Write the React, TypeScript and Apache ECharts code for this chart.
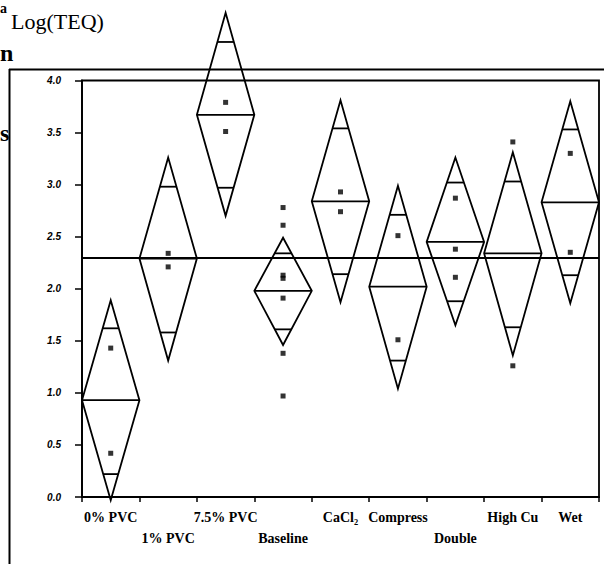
import React, { useEffect, useRef } from "react";
import * as echarts from "echarts";

const categories = ["0% PVC", "1% PVC", "7.5% PVC", "Baseline", "CaCl₂", "Compress", "Double", "High Cu", "Wet"];
const labelRow = [0, 1, 0, 1, 0, 0, 1, 0, 0];
const groupMeans = [0.93, 2.29, 3.67, 1.98, 2.84, 2.02, 2.45, 2.34, 2.83];
const ciUpper = [1.89, 3.26, 4.65, 2.49, 3.81, 2.99, 3.26, 3.31, 3.8];
const ciLower = [-0.03, 1.31, 2.7, 1.46, 1.87, 1.04, 1.65, 1.36, 1.86];
const overlapUpper = [1.62, 2.98, 4.37, 2.34, 3.54, 2.71, 3.02, 3.03, 3.53];
const overlapLower = [0.22, 1.58, 2.97, 1.61, 2.14, 1.31, 1.88, 1.63, 2.13];
const observations = [
  [1.43, 0.42],
  [2.34, 2.21],
  [3.79, 3.51],
  [2.78, 2.61, 2.13, 2.1, 1.91, 1.38, 0.97],
  [2.93, 2.74],
  [2.51, 1.51],
  [2.87, 2.38, 2.11],
  [3.41, 1.26],
  [3.3, 2.35],
];
const grandMean = 2.3;
const yMin = 0;
const yMax = 4;
const yStep = 0.5;

export default function App() {
  const ref = useRef<HTMLDivElement>(null);
  useEffect(() => {
    if (!ref.current) return;
    const chart = echarts.init(ref.current, null, { renderer: "svg" });
    const diamondData = categories.map((_, i) => [
      i,
      groupMeans[i],
      ciUpper[i],
      ciLower[i],
      overlapUpper[i],
      overlapLower[i],
    ]);
    const pointData: number[][] = [];
    observations.forEach((arr, i) => arr.forEach((v) => pointData.push([i, v])));

    const serif = "'Liberation Serif', 'Times New Roman', serif";
    const sans = "'Liberation Sans', Arial, sans-serif";
    const lineStyle = { stroke: "#000", lineWidth: 1.8, fill: "none" };

    chart.setOption({
      animation: false,
      backgroundColor: "#fff",
      grid: {
        left: 82,
        right: 5,
        top: 80.5,
        bottom: 67,
        show: true,
        borderColor: "#000",
        borderWidth: 1.8,
        containLabel: false,
      },
      xAxis: {
        type: "category",
        data: categories,
        boundaryGap: true,
        axisLine: { show: true, lineStyle: { color: "#000", width: 1.8 } },
        axisTick: { show: true, length: 5, inside: false, lineStyle: { color: "#000", width: 1.5 } },
        splitLine: { show: false },
        axisLabel: {
          interval: 0,
          margin: 10,
          color: "#000",
          fontFamily: serif,
          fontWeight: "bold",
          fontSize: 14,
          lineHeight: 21,
          formatter: (v: string, idx: number) => (labelRow[idx] === 1 ? "\n" + v : v),
        },
      },
      yAxis: {
        type: "value",
        min: yMin,
        max: yMax,
        interval: yStep,
        axisLine: { show: true, lineStyle: { color: "#000", width: 1.8 } },
        axisTick: { show: true, length: 7, inside: false, lineStyle: { color: "#000", width: 1.5 } },
        splitLine: { show: false },
        axisLabel: {
          margin: 21,
          color: "#000",
          fontFamily: sans,
          fontWeight: "bold",
          fontStyle: "italic",
          fontSize: 10,
          formatter: (v: number) => v.toFixed(1),
        },
      },
      graphic: [
        {
          type: "line",
          shape: { x1: 9, y1: 69.5, x2: 604, y2: 69.5 },
          style: { stroke: "#000", lineWidth: 2 },
        },
        {
          type: "line",
          shape: { x1: 9.5, y1: 69, x2: 9.5, y2: 564 },
          style: { stroke: "#000", lineWidth: 2 },
        },
        {
          type: "text",
          left: 11,
          top: 10,
          style: { text: "Log(TEQ)", font: "22px " + serif, fill: "#000" },
        },
        {
          type: "text",
          x: 0,
          y: 1,
          style: { text: "a", font: "bold 14px " + serif, fill: "#000" },
        },
        {
          type: "text",
          x: 0,
          y: 41,
          style: { text: "n", font: "bold 24px " + serif, fill: "#000" },
        },
        {
          type: "text",
          x: 0,
          y: 121,
          style: { text: "s", font: "bold 24px " + serif, fill: "#000" },
        },
      ],
      series: [
        {
          type: "custom",
          clip: false,
          silent: true,
          data: diamondData,
          encode: { x: 0, y: [1, 2, 3] },
          renderItem: (params: any, api: any) => {
            const i = api.value(0);
            const mean = api.value(1);
            const top = api.value(2);
            const bot = api.value(3);
            const ou = api.value(4);
            const ol = api.value(5);
            const c = api.coord([i, mean]);
            const hw = api.size([1, 0])[0] / 2;
            const yTop = api.coord([i, top])[1];
            const yBot = api.coord([i, bot])[1];
            const yOu = api.coord([i, ou])[1];
            const yOl = api.coord([i, ol])[1];
            const wU = hw * (1 - (c[1] - yOu) / (c[1] - yTop));
            const wL = hw * (1 - (yOl - c[1]) / (yBot - c[1]));
            return {
              type: "group",
              children: [
                {
                  type: "polygon",
                  shape: {
                    points: [
                      [c[0] - hw, c[1]],
                      [c[0], yTop],
                      [c[0] + hw, c[1]],
                      [c[0], yBot],
                    ],
                  },
                  style: lineStyle,
                },
                {
                  type: "line",
                  shape: { x1: c[0] - hw, y1: c[1], x2: c[0] + hw, y2: c[1] },
                  style: lineStyle,
                },
                {
                  type: "line",
                  shape: { x1: c[0] - wU, y1: yOu, x2: c[0] + wU, y2: yOu },
                  style: lineStyle,
                },
                {
                  type: "line",
                  shape: { x1: c[0] - wL, y1: yOl, x2: c[0] + wL, y2: yOl },
                  style: lineStyle,
                },
              ],
            };
          },
          z: 3,
        },
        {
          type: "scatter",
          data: pointData,
          symbol: "rect",
          symbolSize: 5,
          itemStyle: { color: "#000" },
          z: 4,
          markLine: {
            silent: true,
            symbol: ["none", "none"],
            label: { show: false },
            lineStyle: { color: "#000", width: 2, type: "solid" },
            data: [{ yAxis: grandMean }],
          },
        },
      ],
    });
    return () => chart.dispose();
  }, []);
  return (
    <div
      ref={ref}
      style={{ position: "fixed", left: 0, top: 0, width: 604, height: 564, background: "#fff" }}
    />
  );
}
